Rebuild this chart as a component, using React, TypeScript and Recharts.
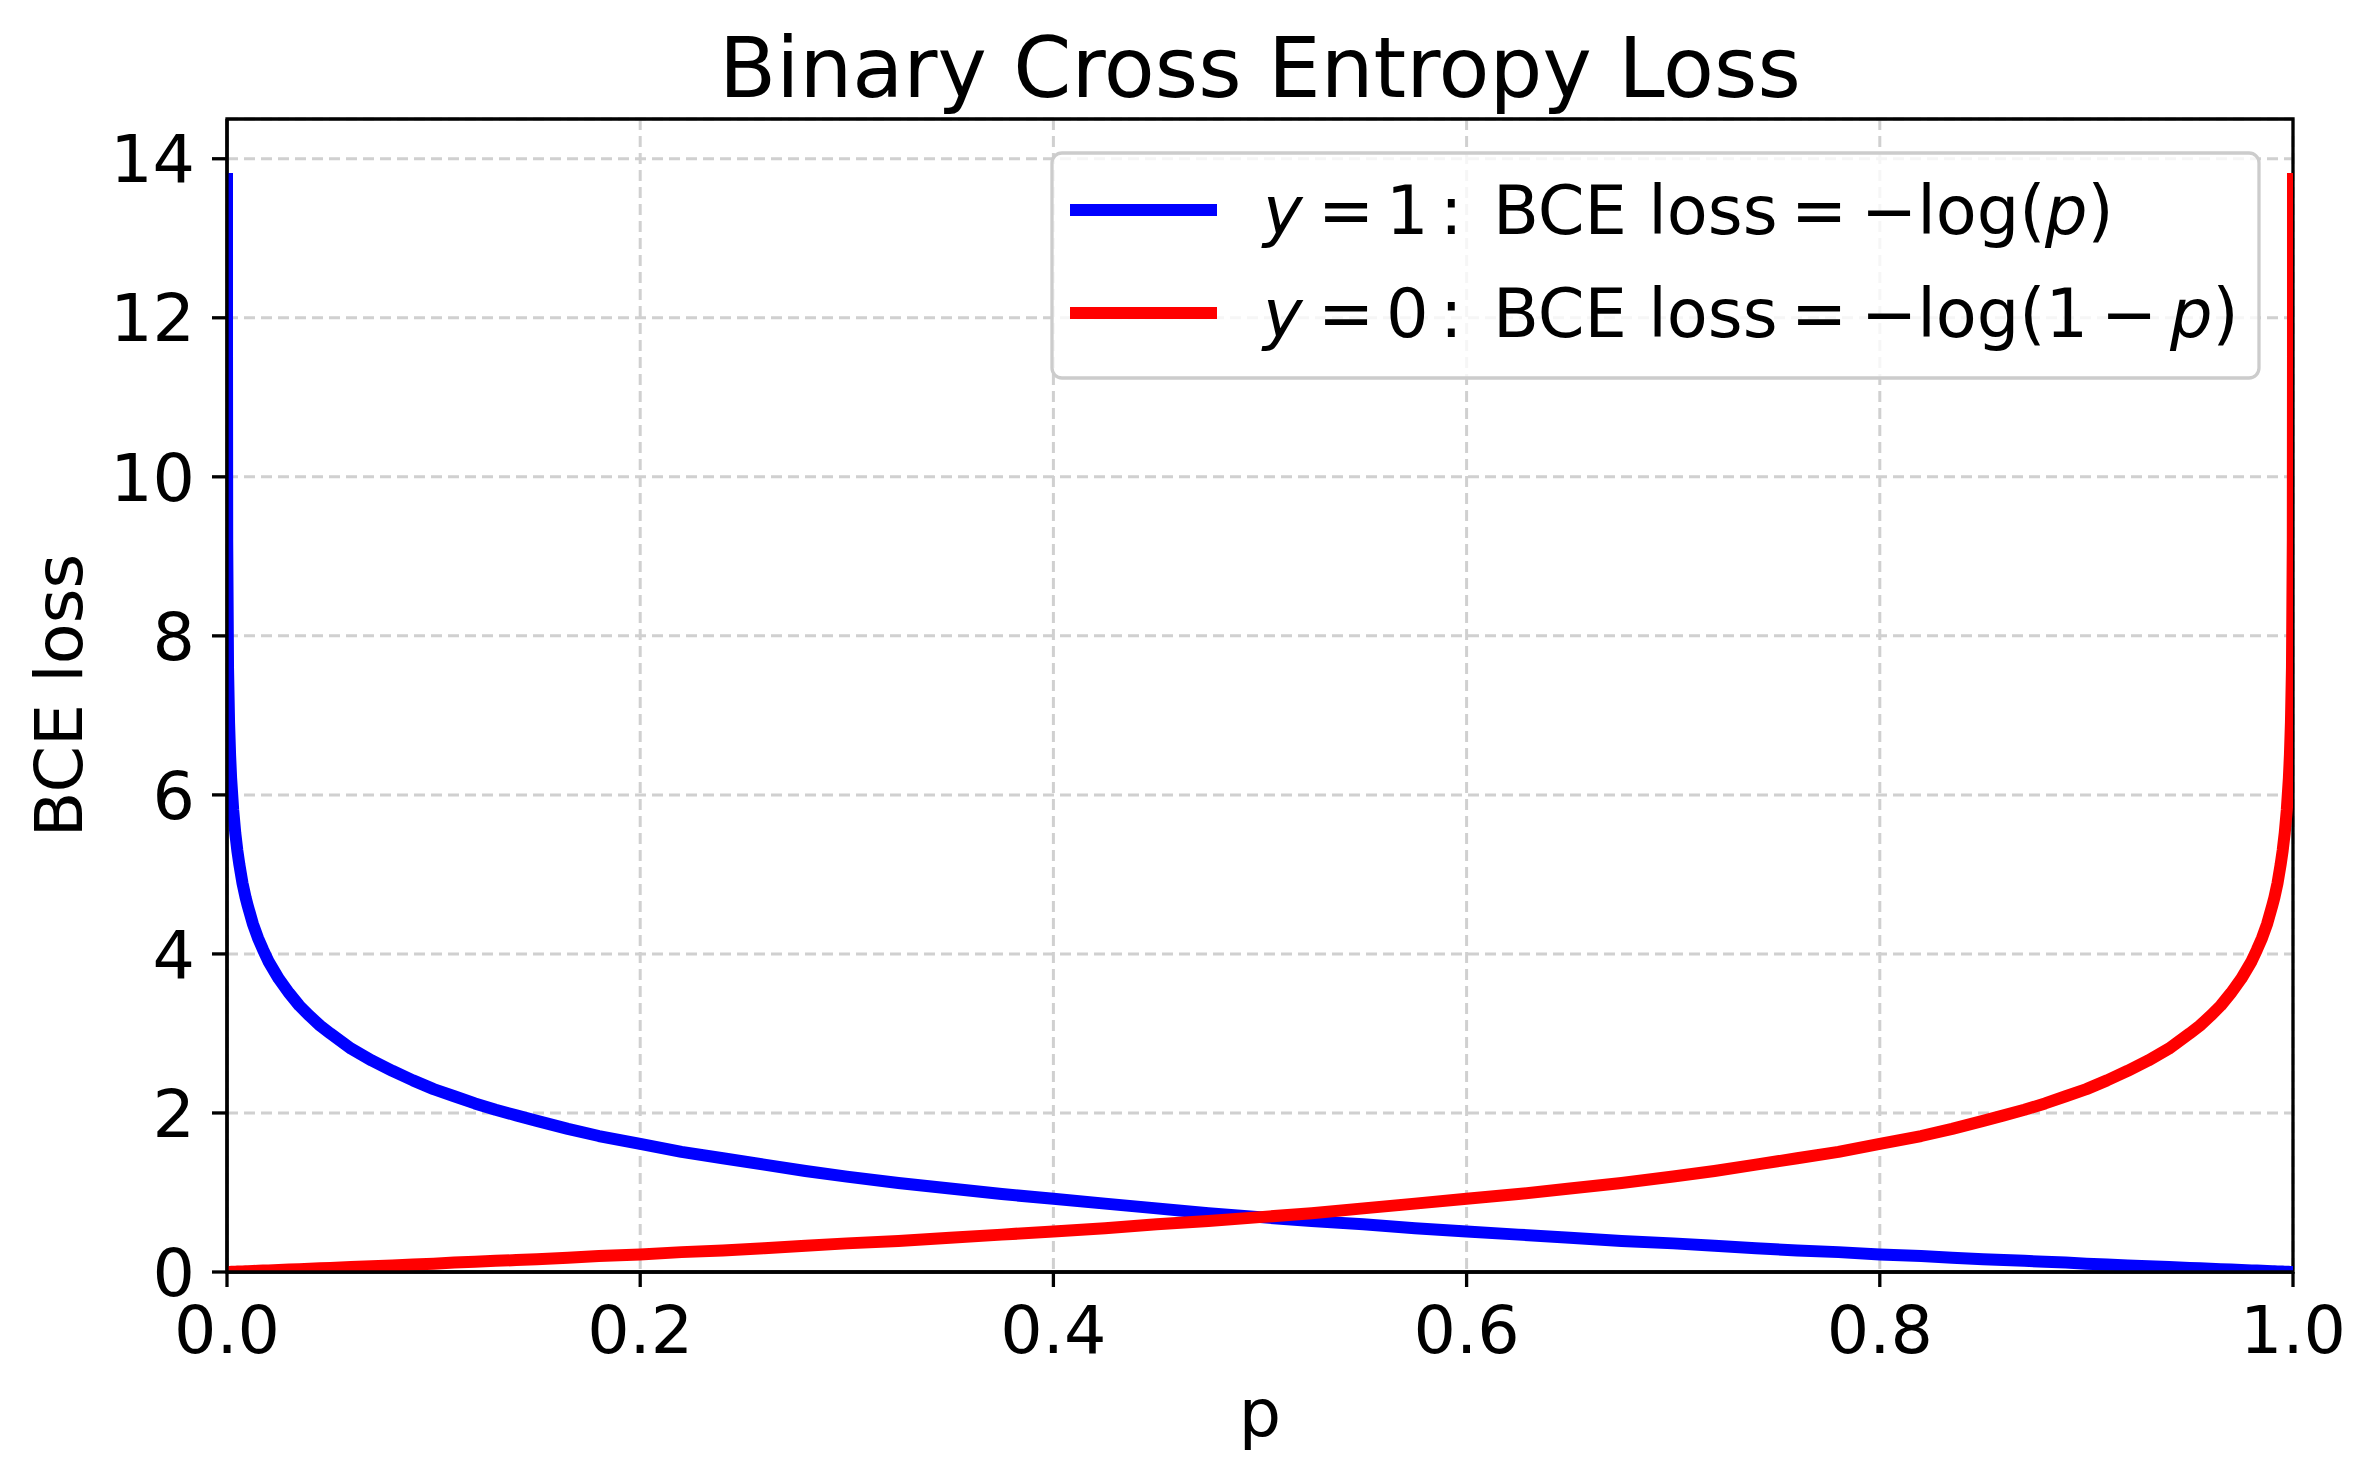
import React from "react";
import { LineChart, Line, XAxis, YAxis, CartesianGrid, Label, ReferenceArea } from "recharts";

// probability p (x axis)
const P_VALUES = [
  0.000001, 0.00001, 0.0001, 0.0005, 0.001, 0.0015, 0.002, 0.003, 0.004, 0.005, 0.006, 0.0075, 0.009,
  0.01, 0.0125, 0.015, 0.0175, 0.02, 0.025, 0.03, 0.035, 0.04, 0.045, 0.05, 0.06, 0.07, 0.08, 0.09,
  0.1, 0.11, 0.12, 0.13, 0.14, 0.15, 0.165, 0.18, 0.2, 0.22, 0.24, 0.26, 0.28, 0.3, 0.325, 0.35,
  0.375, 0.4, 0.425, 0.45, 0.475, 0.5,
  0.525, 0.55, 0.575, 0.6, 0.625, 0.65, 0.675, 0.7, 0.72, 0.74, 0.76, 0.78, 0.8, 0.82, 0.835, 0.85,
  0.86, 0.87, 0.88, 0.89, 0.9, 0.91, 0.92, 0.93, 0.94, 0.95, 0.955, 0.96, 0.965, 0.97, 0.975, 0.98,
  0.9825, 0.985, 0.9875, 0.99, 0.991, 0.9925, 0.994, 0.995, 0.996, 0.997, 0.998, 0.9985, 0.999,
  0.9995, 0.9999, 0.99999, 0.999999,
];
// y = 1 : BCE loss (blue)
const LOSS_Y1 = [
  13.82, 11.51, 9.21, 7.6, 6.91, 6.5, 6.21, 5.81, 5.52, 5.3, 5.12, 4.89, 4.71,
  4.61, 4.38, 4.2, 4.05, 3.91, 3.69, 3.51, 3.35, 3.22, 3.1, 3.0, 2.81, 2.66, 2.53, 2.41,
  2.3, 2.21, 2.12, 2.04, 1.97, 1.9, 1.8, 1.71, 1.61, 1.51, 1.43, 1.35, 1.27, 1.2, 1.12, 1.05,
  0.98, 0.92, 0.86, 0.8, 0.74, 0.69,
  0.64, 0.6, 0.55, 0.51, 0.47, 0.43, 0.39, 0.36, 0.33, 0.3, 0.27, 0.25, 0.22, 0.2, 0.18, 0.16,
  0.15, 0.14, 0.13, 0.12, 0.105, 0.094, 0.083, 0.073, 0.062, 0.051, 0.046, 0.041, 0.036, 0.03, 0.025, 0.02,
  0.018, 0.015, 0.013, 0.01, 0.009, 0.0075, 0.006, 0.005, 0.004, 0.003, 0.002, 0.0015, 0.001,
  0.0005, 0.0001, 0.00001, 0.0,
];
// y = 0 : BCE loss (red)
const LOSS_Y0 = [
  0.0, 0.00001, 0.0001, 0.0005, 0.001, 0.0015, 0.002, 0.003, 0.004, 0.005, 0.006, 0.0075, 0.009,
  0.01, 0.013, 0.015, 0.018, 0.02, 0.025, 0.03, 0.036, 0.041, 0.046, 0.051, 0.062, 0.073, 0.083, 0.094,
  0.105, 0.12, 0.13, 0.14, 0.15, 0.16, 0.18, 0.2, 0.22, 0.25, 0.27, 0.3, 0.33, 0.36, 0.39, 0.43,
  0.47, 0.51, 0.55, 0.6, 0.64, 0.69,
  0.74, 0.8, 0.86, 0.92, 0.98, 1.05, 1.12, 1.2, 1.27, 1.35, 1.43, 1.51, 1.61, 1.71, 1.8, 1.9,
  1.97, 2.04, 2.12, 2.21, 2.3, 2.41, 2.53, 2.66, 2.81, 3.0, 3.1, 3.22, 3.35, 3.51, 3.69, 3.91,
  4.05, 4.2, 4.38, 4.61, 4.71, 4.89, 5.12, 5.3, 5.52, 5.81, 6.21, 6.5, 6.91,
  7.6, 9.21, 11.51, 13.82,
];
const X_TICKS = [0, 0.2, 0.4, 0.6, 0.8, 1.0];
const Y_TICKS = [0, 2, 4, 6, 8, 10, 12, 14];
const X_DOMAIN = [0, 1];
const Y_DOMAIN = [0, 14.5];

const data = P_VALUES.map((p, i) => ({ p, y1: LOSS_Y1[i], y0: LOSS_Y0[i] }));

const FONT = "'DejaVu Sans', sans-serif";
const TICK_FS = 66.7;
const SPINE = 3.3;

const XLabelContent = (props: any) => {
  const vb = props.viewBox || { x: 227, y: 1272, width: 2066, height: 100 };
  return (
    <text x={vb.x + vb.width / 2} y={vb.y + 164} textAnchor="middle" fontSize={TICK_FS} fontFamily={FONT} fill="#000">
      p
    </text>
  );
};

const YLabelContent = (props: any) => {
  const vb = props.viewBox || { x: 127, y: 119, width: 100, height: 1153 };
  const x = vb.x - 45;
  const y = vb.y + vb.height / 2;
  return (
    <text x={x} y={y} transform={`rotate(-90 ${x} ${y})`} textAnchor="middle" fontSize={TICK_FS} fontFamily={FONT} fill="#000">
      BCE loss
    </text>
  );
};

const LegendOverlay = () => {
  const fs = 67;
  const ts = { fontSize: fs, fontFamily: FONT, fill: "#000" } as any;
  const row = (baseline: number, zero: boolean) => (
    <text y={baseline} {...ts} style={{ whiteSpace: "pre" }}>
      <tspan x={1263} fontStyle="italic">y</tspan>
      <tspan x={1318}>=</tspan>
      <tspan x={1386}>{zero ? "0" : "1"}</tspan>
      <tspan x={1440}>:</tspan>
      <tspan x={1493}>BCE loss</tspan>
      <tspan x={1791}>=</tspan>
      <tspan x={1861}>{zero ? "\u2212log(1" : "\u2212log("}</tspan>
      {zero ? <tspan x={2101}>{"\u2212"}</tspan> : null}
      {zero ? (
        <tspan x={2170} fontStyle="italic">p</tspan>
      ) : (
        <tspan x={2045} fontStyle="italic">p</tspan>
      )}
      <tspan>)</tspan>
    </text>
  );
  return (
    <g>
      <rect x={1052} y={153} width={1207} height={225} rx={10} ry={10} fill="#fff" fillOpacity={0.8} stroke="#cccccc" strokeWidth={3.3} />
      <line x1={1070} x2={1217} y1={210} y2={210} stroke="#0000ff" strokeWidth={12} />
      <line x1={1070} x2={1217} y1={313} y2={313} stroke="#ff0000" strokeWidth={12} />
      {row(234, false)}
      {row(337, true)}
    </g>
  );
};

export default function App() {
  return (
    <div style={{ position: "absolute", left: 0, top: 0, width: 2375, height: 1480, background: "#fff" }}>
      <LineChart width={2375} height={1480} data={data} margin={{ top: 119, right: 82, bottom: 108, left: 127 }}>
        <CartesianGrid stroke="#d0d0d0" strokeDasharray="11 6" strokeWidth={3} />
        <XAxis
          type="number"
          dataKey="p"
          domain={X_DOMAIN}
          ticks={X_TICKS}
          interval={0}
          allowDataOverflow
          tickFormatter={(v: number) => v.toFixed(1)}
          height={100}
          tickSize={15}
          tickMargin={19}
          stroke="#000"
          axisLine={{ stroke: "#000", strokeWidth: SPINE }}
          tickLine={{ stroke: "#000", strokeWidth: SPINE }}
          tick={{ fontSize: TICK_FS, fill: "#000", fontFamily: FONT }}
        >
          <Label content={<XLabelContent />} />
        </XAxis>
        <YAxis
          type="number"
          domain={Y_DOMAIN}
          ticks={Y_TICKS}
          interval={0}
          allowDataOverflow
          width={100}
          tickSize={15}
          tickMargin={17}
          stroke="#000"
          axisLine={{ stroke: "#000", strokeWidth: SPINE }}
          tickLine={{ stroke: "#000", strokeWidth: SPINE }}
          tick={{ fontSize: TICK_FS, fill: "#000", fontFamily: FONT }}
        >
          <Label content={<YLabelContent />} />
        </YAxis>
        <Line type="linear" dataKey="y1" stroke="#0000ff" strokeWidth={12} strokeLinejoin="round" dot={false} activeDot={false} isAnimationActive={false} />
        <Line type="linear" dataKey="y0" stroke="#ff0000" strokeWidth={12} strokeLinejoin="round" dot={false} activeDot={false} isAnimationActive={false} />
        <ReferenceArea
          x1={X_DOMAIN[0]}
          x2={X_DOMAIN[1]}
          y1={Y_DOMAIN[0]}
          y2={Y_DOMAIN[1]}
          fill="none"
          fillOpacity={0}
          stroke="#000"
          strokeWidth={SPINE}
          strokeOpacity={1}
        />
      </LineChart>
      <svg width={2375} height={1480} style={{ position: "absolute", left: 0, top: 0, pointerEvents: "none" }}>
        <text x={1260} y={97} textAnchor="middle" fontSize={83.3} fontFamily={FONT} fill="#000">
          Binary Cross Entropy Loss
        </text>
        <LegendOverlay />
      </svg>
    </div>
  );
}
